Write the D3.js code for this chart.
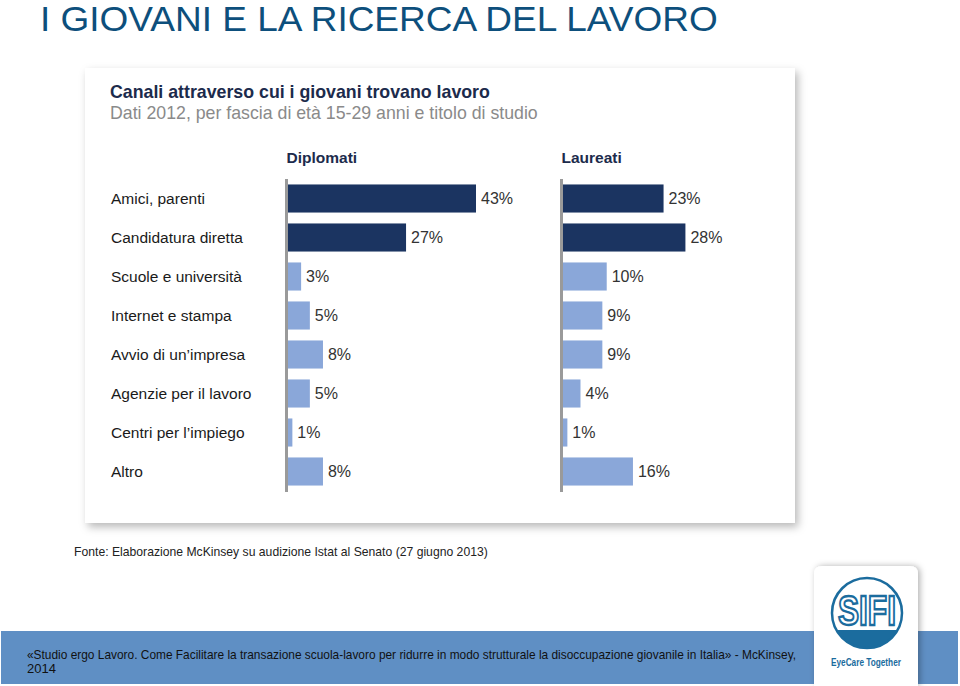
<!DOCTYPE html>
<html>
<head>
<meta charset="utf-8">
<script src="https://cdn.jsdelivr.net/npm/d3@7"></script>
<style>
  html, body { margin: 0; padding: 0; background: #ffffff; }
  svg { display: block; }
</style>
</head>
<body>
<svg id="chart" width="960" height="686"></svg>
<script>
// ---- DATA ----
const pageTitle = "I GIOVANI E LA RICERCA DEL LAVORO";
const chartTitle = "Canali attraverso cui i giovani trovano lavoro";
const chartSubtitle = "Dati 2012, per fascia di età 15-29 anni e titolo di studio";
const categories = [
  "Amici, parenti",
  "Candidatura diretta",
  "Scuole e università",
  "Internet e stampa",
  "Avvio di un’impresa",
  "Agenzie per il lavoro",
  "Centri per l’impiego",
  "Altro"
];
const groups = ["Diplomati", "Laureati"];
const diplomati = [43, 27, 3, 5, 8, 5, 1, 8];
const laureati = [23, 28, 10, 9, 9, 4, 1, 16];
const highlighted = ["Amici, parenti", "Candidatura diretta"];
const sourceNote = "Fonte: Elaborazione McKinsey su audizione Istat al Senato (27 giugno 2013)";
const footerLine1 = "«Studio ergo Lavoro. Come Facilitare la transazione scuola-lavoro per ridurre in modo strutturale la disoccupazione giovanile in Italia» - McKinsey,";
const footerLine2 = "2014";
const logoText = "SIFI";
const logoTagline = "EyeCare Together";

// ---- DRAW ----
const svg = d3.select("#chart");
const FONT = "'Liberation Sans', Arial, sans-serif";
const defs = svg.append("defs");

const sh = defs.append("filter").attr("id", "cardShadow")
  .attr("x", "-5%").attr("y", "-5%").attr("width", "112%").attr("height", "115%");
sh.append("feDropShadow").attr("dx", 3).attr("dy", 4).attr("stdDeviation", 4)
  .attr("flood-color", "#000").attr("flood-opacity", 0.28);

const sh2 = defs.append("filter").attr("id", "logoShadow")
  .attr("x", "-20%").attr("y", "-20%").attr("width", "140%").attr("height", "140%");
sh2.append("feDropShadow").attr("dx", 2).attr("dy", 0).attr("stdDeviation", 3)
  .attr("flood-color", "#000").attr("flood-opacity", 0.3);

// helper: fit a text horizontally to a target width via transform
function fitText(sel, x0, y0, targetW) {
  const w = sel.node().getComputedTextLength();
  const sx = targetW / w;
  sel.attr("x", 0).attr("y", 0)
    .attr("transform", `translate(${x0},${y0}) scale(${sx},1)`);
}

// Page title
const tt = svg.append("text")
  .attr("font-family", FONT).attr("font-size", 35)
  .attr("fill", "#0d4f7c")
  .text(pageTitle);
fitText(tt, 40, 31, 678);

// Card
svg.append("rect")
  .attr("x", 85).attr("y", 68).attr("width", 710).attr("height", 455)
  .attr("fill", "#ffffff").attr("filter", "url(#cardShadow)");

const ct = svg.append("text")
  .attr("font-family", FONT).attr("font-size", 17.5).attr("font-weight", "bold")
  .attr("fill", "#1c2b4c")
  .text(chartTitle);
fitText(ct, 110, 98, 380);

const cs = svg.append("text")
  .attr("font-family", FONT).attr("font-size", 17.5)
  .attr("fill", "#8a8a8a")
  .text(chartSubtitle);
fitText(cs, 110, 119, 428);

// Scales
const y = d3.scaleBand().domain(categories).range([179, 491])
  .paddingInner(0.28).paddingOuter(0.14);
const x = d3.scaleLinear().domain([0, 43]).range([0, 188]);

const panels = [
  { name: groups[0], values: diplomati, axisX: 286.5 },
  { name: groups[1], values: laureati, axisX: 561.5 }
];

const colorDark = "#1b3461";
const colorLight = "#8aa7d9";

// Category labels
svg.append("g").selectAll("text")
  .data(categories).join("text")
  .attr("x", 111)
  .attr("y", d => y(d) + y.bandwidth() / 2)
  .attr("dy", "0.35em")
  .attr("font-family", FONT).attr("font-size", 15.5)
  .attr("fill", "#1a1a1a")
  .text(d => d);

panels.forEach(p => {
  const g = svg.append("g");
  const x0 = p.axisX + 1.5;
  g.append("text")
    .attr("x", p.axisX).attr("y", 163)
    .attr("font-family", FONT).attr("font-size", 15.5).attr("font-weight", "bold")
    .attr("fill", "#1c2b4c")
    .text(p.name);

  g.selectAll("rect.bar")
    .data(categories.map((c, i) => ({ c, v: p.values[i] })))
    .join("rect")
    .attr("class", "bar")
    .attr("x", x0)
    .attr("y", d => y(d.c))
    .attr("width", d => x(d.v))
    .attr("height", y.bandwidth())
    .attr("fill", d => highlighted.includes(d.c) ? colorDark : colorLight);

  g.selectAll("text.val")
    .data(categories.map((c, i) => ({ c, v: p.values[i] })))
    .join("text")
    .attr("class", "val")
    .attr("x", d => x0 + x(d.v) + 5)
    .attr("y", d => y(d.c) + y.bandwidth() / 2)
    .attr("dy", "0.36em")
    .attr("font-family", FONT).attr("font-size", 16)
    .attr("fill", "#333333")
    .text(d => d.v + "%");

  g.append("line")
    .attr("x1", p.axisX).attr("x2", p.axisX)
    .attr("y1", 179).attr("y2", 492)
    .attr("stroke", "#9a9a9a").attr("stroke-width", 3);
});

// Source note
const sn = svg.append("text")
  .attr("font-family", FONT).attr("font-size", 13)
  .attr("fill", "#222")
  .text(sourceNote);
fitText(sn, 74, 556, 414);

// Footer band
svg.append("rect")
  .attr("x", 1).attr("y", 631).attr("width", 957).attr("height", 53)
  .attr("fill", "#5f8fc4");

const f1 = svg.append("text")
  .attr("font-family", FONT).attr("font-size", 13)
  .attr("fill", "#111")
  .text(footerLine1);
fitText(f1, 27, 659, 770);
svg.append("text")
  .attr("x", 27).attr("y", 673)
  .attr("font-family", FONT).attr("font-size", 13)
  .attr("fill", "#111")
  .text(footerLine2);

// Logo card
const lg = svg.append("g");
lg.append("path")
  .attr("d", "M814,686 L814,574 Q814,566 822,566 L910,566 Q918,566 918,574 L918,686 Z")
  .attr("fill", "#ffffff").attr("filter", "url(#logoShadow)");

const cx = 867, cy = 613, r = 35;
const logoBlue = "#1b6c9e";
const clip = defs.append("clipPath").attr("id", "logoClip");
clip.append("circle").attr("cx", cx).attr("cy", cy).attr("r", r);
lg.append("rect")
  .attr("x", cx - r).attr("y", 630).attr("width", 2 * r).attr("height", r + 10)
  .attr("fill", logoBlue).attr("clip-path", "url(#logoClip)");
lg.append("circle")
  .attr("cx", cx).attr("cy", cy).attr("r", r)
  .attr("fill", "none").attr("stroke", logoBlue).attr("stroke-width", 2.5);
const st = lg.append("text")
  .attr("font-family", FONT).attr("font-size", 42).attr("font-weight", "bold")
  .attr("fill", "#ffffff").attr("stroke", logoBlue).attr("stroke-width", 2.4)
  .text(logoText);
fitText(st, 838, 625, 58);
const tg = lg.append("text")
  .attr("font-family", FONT).attr("font-size", 10).attr("font-weight", "bold")
  .attr("fill", logoBlue)
  .text(logoTagline);
fitText(tg, 831, 666, 70);
</script>
</body>
</html>
